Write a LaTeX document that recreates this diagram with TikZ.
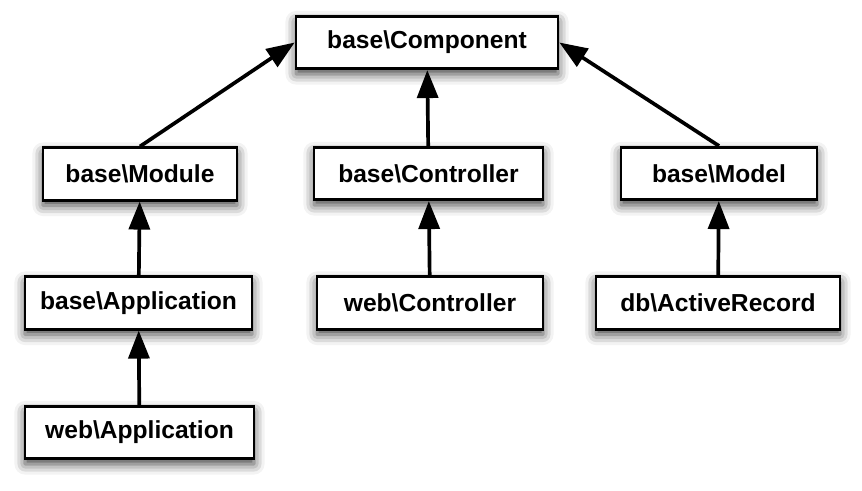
\documentclass[tikz,border=0pt]{standalone}
\usepackage{fontspec}
\setmainfont{Liberation Sans}
\usetikzlibrary{arrows.meta, shadows.blur}
\tikzset{
  every picture/.style={font=\bfseries, line width=1.5pt},
  box/.style={draw=black, fill=white, align=center, inner sep=0pt,
    minimum width=#1, minimum height=1.05cm,
    blur shadow={shadow xshift=0pt, shadow yshift=-3pt, shadow blur radius=6pt, shadow opacity=75}},
  box/.default=4cm,
  arrow/.style={-{Triangle[length=5.6mm, width=4.2mm]}, draw=black, line width=2.1pt},
}

\begin{document}
\begin{tikzpicture}[x=1cm, y=1cm, every node/.append style={font=\fontsize{14}{17}\selectfont\bfseries}]
  \useasboundingbox (0,0) rectangle (17.24,-9.82);
  \node[box=5.24cm] (comp) at (8.54,-0.85) {base\textbackslash Component};
  \node[box=3.88cm] (mod) at (2.80,-3.48) {base\textbackslash Module};
  \node[box=4.58cm] (ctl) at (8.57,-3.47) {base\textbackslash Controller};
  \node[box=3.92cm] (mdl) at (14.38,-3.47) {base\textbackslash Model};
  \node[box=4.54cm] (app) at (2.77,-6.06) {base\textbackslash Application};
  \node[box=4.52cm] (wctl) at (8.60,-6.06) {web\textbackslash Controller};
  \node[box=4.88cm] (ar) at (14.36,-6.06) {db\textbackslash ActiveRecord};
  \node[box=4.58cm] (wapp) at (2.79,-8.65) {web\textbackslash Application};
  \draw[arrow] (mod.north) -- (comp.west);
  \draw[arrow] (ctl) -- (comp);
  \draw[arrow] (mdl.north) -- (comp.east);
  \draw[arrow] (app) -- (mod);
  \draw[arrow] (wapp) -- (app);
  \draw[arrow] (wctl) -- (ctl);
  \draw[arrow] (ar) -- (mdl);
\end{tikzpicture}
\end{document}
